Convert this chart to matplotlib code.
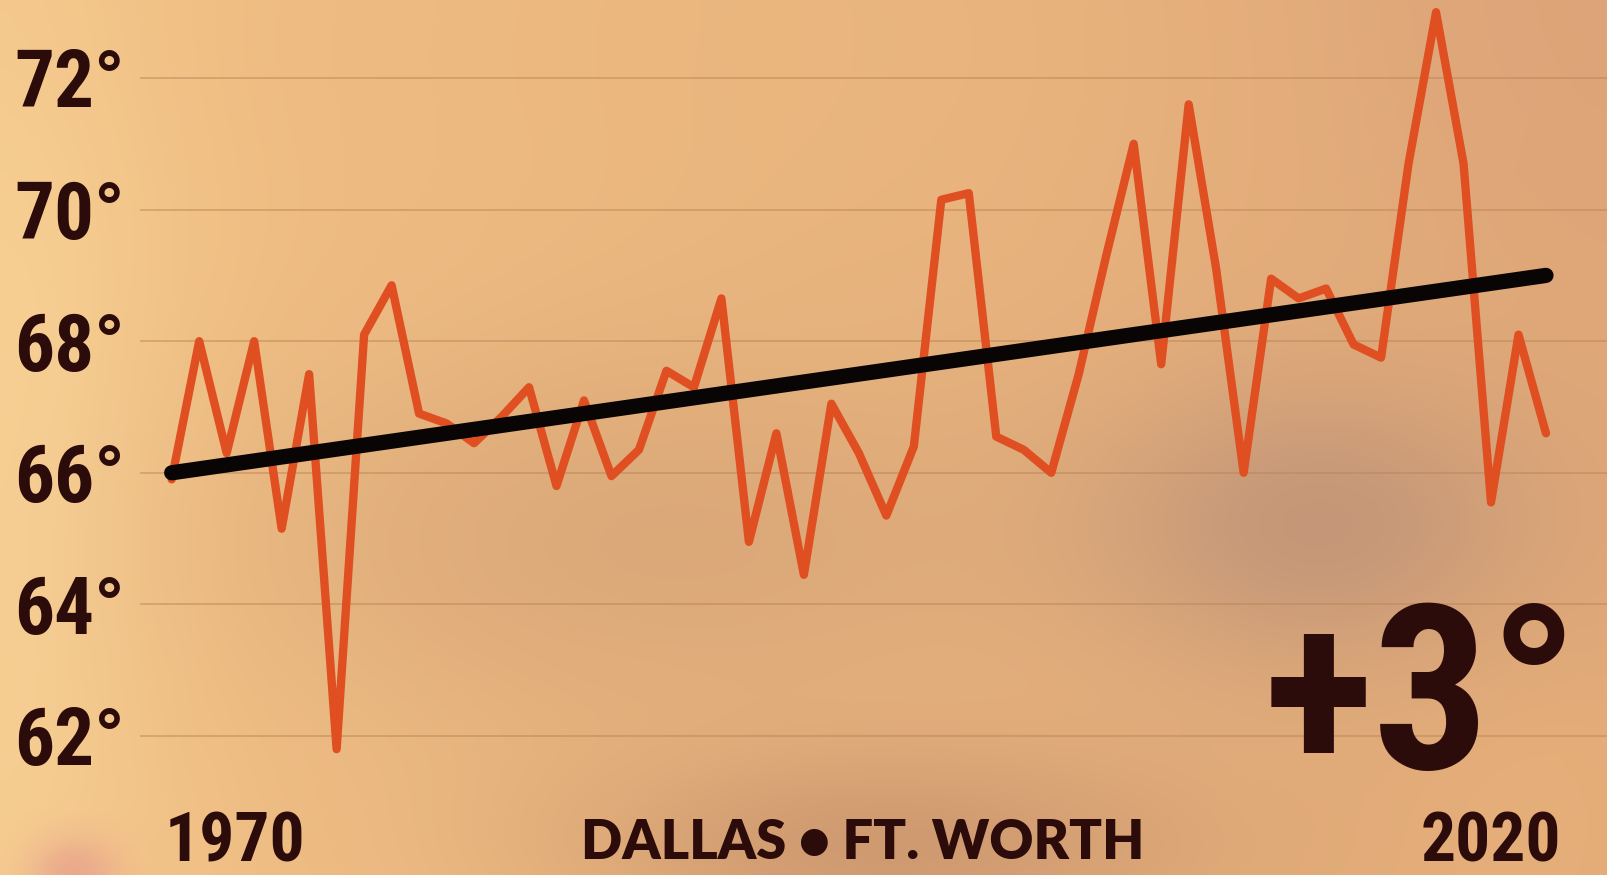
import os
import numpy as np
import matplotlib
matplotlib.use("Agg")
import matplotlib.pyplot as plt
from matplotlib import font_manager as fm
from matplotlib.colors import to_rgb

# ---------------- data ----------------
years = list(range(1970, 2021))
temps = [65.9, 68.0, 66.3, 68.0, 65.15, 67.5, 61.8, 68.1, 68.85, 66.9,
         66.75, 66.45, 66.85, 67.3, 65.8, 67.1, 65.95, 66.35, 67.55, 67.3,
         68.65, 64.95, 66.6, 64.45, 67.05, 66.3, 65.35, 66.4, 70.15, 70.25,
         66.55, 66.35, 66.0, 67.5, 69.3, 71.0, 67.65, 71.6, 69.1, 66.0,
         68.95, 68.65, 68.8, 67.95, 67.75, 70.7, 73.0, 70.7, 65.55, 68.1,
         66.6]
trend_years = [1970, 2020]
trend_temps = [66.0, 69.0]
ytick_vals = [62, 64, 66, 68, 70, 72]
ytick_labels = ["62°", "64°", "66°", "68°", "70°", "72°"]
xlabel_years = [1970, 2020]
xlabel_texts = ["1970", "2020"]
title = "DALLAS • FT. WORTH"
change_label = "+3°"

# ---------------- fonts ----------------
all_files = [f.fname for f in fm.fontManager.ttflist]


def pick(names):
    for name in names:
        for f in all_files:
            if os.path.basename(f).lower() == name.lower():
                return f
    return None


narrow_file = pick(["RobotoCondensed-Bold.ttf", "NotoSans-ExtraCondensedBold.ttf",
                    "LiberationSansNarrow-Bold.ttf", "DejaVuSansCondensed-Bold.ttf"])


def fp(path, size):
    if path:
        return fm.FontProperties(fname=path, size=size)
    return fm.FontProperties(family="DejaVu Sans", weight="bold", size=size)


W, H = 1608, 875
DPI = 100
fig = plt.figure(figsize=(W / DPI, H / DPI), dpi=DPI)

# ---------------- background ----------------
bg = fig.add_axes([0, 0, 1, 1])
bg.set_axis_off()
xx, yy = np.meshgrid(np.linspace(0, 1, 400), np.linspace(0, 1, 220))
img = np.zeros((220, 400, 3))
left_c = np.array(to_rgb("#f2c286"))
right_c = np.array(to_rgb("#e2aa78"))
t = np.clip(xx, 0, 1)[..., None]
img[:] = left_c * (1 - t) + right_c * t


def blend(img, cx, cy, sx, sy, color, strength):
    g = np.exp(-(((xx - cx) / sx) ** 2 + ((yy - cy) / sy) ** 2) / 2.0)[..., None] * strength
    c = np.array(to_rgb(color))
    return img * (1 - g) + c * g


img = blend(img, 0.0, 0.55, 0.07, 0.5, "#f9d498", 0.8)
img = blend(img, 0.5, 0.05, 0.25, 0.12, "#ebb67e", 0.4)
img = blend(img, 1.0, 0.0, 0.15, 0.25, "#d9a079", 0.6)
img = blend(img, 0.40, 0.62, 0.18, 0.16, "#d19e74", 0.6)
img = blend(img, 0.82, 0.60, 0.10, 0.12, "#bb9078", 0.75)
img = blend(img, 0.55, 0.97, 0.14, 0.08, "#c48f6a", 0.7)
img = blend(img, 0.97, 0.95, 0.06, 0.12, "#e8b27a", 0.5)
img = blend(img, 0.045, 1.0, 0.02, 0.03, "#e08a8a", 0.5)
bg.imshow(img, extent=[0, 1, 0, 1], origin="upper", aspect="auto", interpolation="bicubic")
bg.set_xlim(0, 1)
bg.set_ylim(0, 1)

# ---------------- main axes ----------------
ax_left_px, ax_bottom_px = 140, 790
ax = fig.add_axes([ax_left_px / W, 1 - ax_bottom_px / H, 1 - ax_left_px / W, ax_bottom_px / H])
ax.patch.set_alpha(0)
for s in ax.spines.values():
    s.set_visible(False)

px_per_year = 27.48
px_per_deg = 65.8
ax.set_xlim(1970 - (171.7 - ax_left_px) / px_per_year, 2020 + (W - 1546) / px_per_year)
ax.set_ylim(62 - (ax_bottom_px - 736) / px_per_deg, 72 + 78 / px_per_deg)

text_color = "#2c0b0b"
ax.set_yticks(ytick_vals, ytick_labels)
ax.tick_params(axis="y", length=0, pad=11, labelcolor=text_color)
for lbl in ax.get_yticklabels():
    lbl.set_fontproperties(fp(narrow_file, 57))
ax.set_xticks([])

ax.grid(axis="y", color="#b98356", alpha=0.55, linewidth=1.2)

ax.plot(years, temps, color="#e04f22", linewidth=6, solid_joinstyle="round",
        solid_capstyle="round", zorder=3)
ax.plot(trend_years, trend_temps, color="#0a0505", linewidth=11,
        solid_capstyle="round", zorder=4)

# year labels under the axis, left one left-aligned, right one right-aligned
xtrans = ax.get_xaxis_transform()
base_y_axes = -(862 - ax_bottom_px) / ax_bottom_px
for yr, txt, ha, dx in zip(xlabel_years, xlabel_texts, ["left", "right"], [-0.25, 0.55]):
    ax.text(yr + dx, base_y_axes, txt, transform=xtrans, ha=ha, va="baseline",
            color=text_color, fontproperties=fp(narrow_file, 50), clip_on=False)

fig.text(863 / W, 1 - 859 / H, title, ha="center", va="baseline",
         fontsize=39, fontweight="heavy", color=text_color,
         family=["Lato", "DejaVu Sans"])
fig.text(1580 / W, 1 - 769 / H, change_label, ha="right", va="baseline",
         color=text_color, fontproperties=fp(narrow_file, 166))

fig.savefig("out.png", dpi=DPI)
